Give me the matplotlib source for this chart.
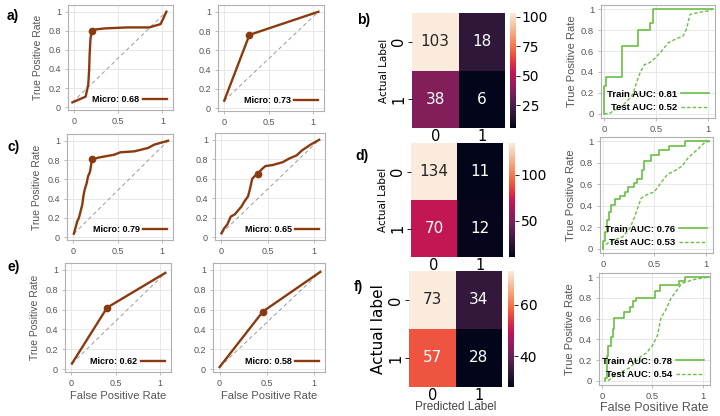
import numpy as np
import matplotlib as mpl
mpl.use("agg")
import matplotlib.pyplot as plt
from matplotlib.ticker import FuncFormatter
import seaborn as sns

W, H = 720, 416
BROWN = "#8b3a10"
GREEN = "#6abf45"
SANS = "Liberation Sans"

# ---- micro-average ROC curves (left two columns) ----
a1_fpr = [-0.02, 0.13, 0.16, 0.17, 0.175, 0.185, 0.20, 0.25, 0.35, 0.60, 0.85, 0.98, 1.045]
a1_tpr = [0.05, 0.11, 0.24, 0.40, 0.55, 0.72, 0.80, 0.815, 0.825, 0.835, 0.835, 0.87, 1.0]
a1_mark = (0.20, 0.80)
a2_fpr = [0.0, 0.283, 1.057]
a2_tpr = [0.077, 0.76, 1.0]
a2_mark = (0.283, 0.76)

c1_fpr = [0.007, 0.026, 0.045, 0.064, 0.083, 0.102, 0.113, 0.128, 0.151, 0.166, 0.189,
          0.204, 0.215, 0.31, 0.46, 0.53, 0.686, 0.84, 0.91, 1.065]
c1_tpr = [0.035, 0.097, 0.165, 0.20, 0.27, 0.34, 0.42, 0.49, 0.56, 0.63, 0.68,
          0.77, 0.81, 0.83, 0.855, 0.88, 0.89, 0.925, 0.96, 1.0]
c1_mark = (0.215, 0.81)
c2_fpr = [0.0, 0.027, 0.064, 0.10, 0.146, 0.176, 0.213, 0.251, 0.288, 0.307, 0.333,
          0.363, 0.393, 0.438, 0.476, 0.55, 0.663, 0.738, 0.813, 0.87, 0.963, 1.057]
c2_tpr = [0.038, 0.087, 0.131, 0.21, 0.235, 0.27, 0.31, 0.37, 0.42, 0.49, 0.60,
          0.63, 0.65, 0.70, 0.73, 0.74, 0.77, 0.81, 0.84, 0.89, 0.95, 1.0]
c2_mark = (0.393, 0.65)

e1_fpr = [0.008, 0.403, 1.056]
e1_tpr = [0.055, 0.62, 0.97]
e1_mark = (0.403, 0.62)
e2_fpr = [0.0, 0.46, 1.07]
e2_tpr = [0.02, 0.58, 0.98]
e2_mark = (0.46, 0.58)

micro_auc = {"a1": 0.68, "a2": 0.73, "c1": 0.79, "c2": 0.65, "e1": 0.62, "e2": 0.58}

# ---- confusion matrices ----
cm_b = [[103, 18], [38, 6]]
cm_d = [[134, 11], [70, 12]]
cm_f = [[73, 34], [57, 28]]
cbar_ticks_b = [25, 50, 75, 100]
cbar_ticks_d = [50, 100]
cbar_ticks_f = [40, 60]

# ---- train / test ROC curves (right column) ----
b_train_fpr = [0.0, 0.0, 0.02, 0.02, 0.17, 0.17, 0.33, 0.33, 0.44, 0.44, 0.47, 0.47, 1.05]
b_train_tpr = [0.0, 0.27, 0.27, 0.35, 0.35, 0.65, 0.65, 0.80, 0.80, 0.87, 0.87, 1.0, 1.0]
b_test_fpr = [0.0, 0.05, 0.09, 0.17, 0.23, 0.28, 0.31, 0.35, 0.39, 0.44, 0.49, 0.555,
              0.62, 0.70, 0.76, 0.795, 0.83, 0.92, 0.99, 1.045]
b_test_tpr = [0.0, 0.0, 0.03, 0.07, 0.13, 0.19, 0.29, 0.40, 0.47, 0.49, 0.53, 0.60,
              0.68, 0.72, 0.74, 0.81, 0.95, 0.97, 0.98, 1.0]
b_auc = (0.81, 0.52)

d_train_fpr = [0.0, 0.0, 0.02, 0.02, 0.035, 0.035, 0.06, 0.06, 0.08, 0.08, 0.12, 0.12,
               0.165, 0.165, 0.21, 0.21, 0.24, 0.24, 0.30, 0.30, 0.33, 0.33, 0.38, 0.38,
               0.40, 0.40, 0.465, 0.465, 0.545, 0.545, 0.64, 0.64, 0.80, 0.80, 1.03]
d_train_tpr = [0.0, 0.07, 0.07, 0.16, 0.16, 0.27, 0.27, 0.34, 0.34, 0.41, 0.41, 0.46,
               0.46, 0.49, 0.49, 0.53, 0.53, 0.57, 0.57, 0.61, 0.61, 0.65, 0.65, 0.73,
               0.73, 0.82, 0.82, 0.87, 0.87, 0.92, 0.92, 0.96, 0.96, 1.0, 1.0]
d_test_fpr = [0.0, 0.0, 0.065, 0.19, 0.26, 0.305, 0.37, 0.42, 0.50, 0.56, 0.625, 0.705,
              0.77, 0.83, 0.915, 0.99, 1.04]
d_test_tpr = [0.0, 0.02, 0.065, 0.11, 0.19, 0.29, 0.47, 0.50, 0.53, 0.61, 0.69, 0.73,
              0.77, 0.85, 0.92, 0.99, 1.0]
d_auc = (0.76, 0.53)

f_train_fpr = [0.03, 0.03, 0.05, 0.05, 0.06, 0.06, 0.09, 0.09, 0.11, 0.11, 0.12, 0.12,
               0.22, 0.22, 0.28, 0.28, 0.31, 0.31, 0.34, 0.34, 0.52, 0.52, 0.57, 0.57,
               0.76, 0.76, 0.82, 0.82, 1.06]
f_train_tpr = [0.0, 0.03, 0.03, 0.24, 0.24, 0.34, 0.34, 0.42, 0.42, 0.50, 0.50, 0.61,
               0.61, 0.66, 0.66, 0.71, 0.71, 0.77, 0.77, 0.80, 0.80, 0.87, 0.87, 0.92,
               0.92, 0.96, 0.96, 1.0, 1.0]
f_test_fpr = [0.06, 0.12, 0.18, 0.28, 0.38, 0.44, 0.50, 0.55, 0.585, 0.63, 0.68, 0.73,
              0.79, 0.92, 1.06]
f_test_tpr = [0.0, 0.05, 0.08, 0.13, 0.23, 0.27, 0.34, 0.44, 0.61, 0.68, 0.79, 0.86,
              0.94, 0.98, 1.0]
f_auc = (0.78, 0.54)


def px_axes(fig, x0, y0, x1, y1):
    return fig.add_axes([x0 / W, 1 - y1 / H, (x1 - x0) / W, (y1 - y0) / H])


fmt_g = FuncFormatter(lambda v, _: f"{v:g}")


def style_roc(ax, tick_size, xlim, ylim):
    ax.set_xlim(*xlim)
    ax.set_ylim(*ylim)
    ax.set_xticks([0, 0.5, 1])
    ax.set_yticks([0, 0.2, 0.4, 0.6, 0.8, 1])
    ax.xaxis.set_major_formatter(fmt_g)
    ax.yaxis.set_major_formatter(fmt_g)
    ax.grid(color="#e4e4e4", lw=0.6)
    ax.set_axisbelow(True)
    for s in ax.spines.values():
        s.set_color("#b0b0b0")
        s.set_linewidth(0.8)
    ax.tick_params(length=2, width=0.6, color="#b0b0b0", labelsize=tick_size,
                   labelcolor="#555555", pad=3)
    for t in ax.get_xticklabels() + ax.get_yticklabels():
        t.set_fontfamily(SANS)


def draw_micro(ax, fpr, tpr, mark, auc, ylabel=False, xlabel=False):
    ax.plot([fpr[0], fpr[-1]], [tpr[0], tpr[-1]], ls=(0, (4, 3)), color="#9a9a9a", lw=0.7)
    ax.plot(fpr, tpr, color=BROWN, lw=1.7, label=f"Micro: {auc:.2f}")
    ax.plot(mark[0], mark[1], "o", color=BROWN, ms=4.5)
    style_roc(ax, 6.5, (-0.07, 1.12), (-0.03, 1.07))
    ax.legend(loc="lower right", frameon=False, markerfirst=False,
              handlelength=2.6, borderaxespad=0.3, handletextpad=0.4,
              prop={"family": SANS, "weight": "bold", "size": 6.5})
    if ylabel:
        ax.set_ylabel("True Positive Rate", fontsize=7.5, color="#555555",
                      family=SANS, labelpad=4)
    if xlabel:
        ax.set_xlabel("False Positive Rate", fontsize=8, color="#555555",
                      family=SANS, labelpad=2)


def draw_train_test(ax, tr_fpr, tr_tpr, te_fpr, te_tpr, aucs, xlabel=False):
    ax.plot(tr_fpr, tr_tpr, color=GREEN, lw=1.2, label=f"Train AUC: {aucs[0]:.2f}")
    ax.plot(te_fpr, te_tpr, color=GREEN, lw=1.0, ls=(0, (2.5, 1.5)),
            label=f"Test AUC: {aucs[1]:.2f}")
    style_roc(ax, 6.8, (-0.03, 1.07), (-0.04, 1.04))
    ax.legend(loc="lower right", frameon=False, markerfirst=False,
              handlelength=3.0, borderaxespad=0.2, handletextpad=0.4, labelspacing=0.5,
              prop={"family": SANS, "weight": "bold", "size": 6.8})
    ax.set_ylabel("True Positive Rate", fontsize=8, color="#555555", family=SANS, labelpad=3)
    if xlabel:
        ax.set_xlabel("False Positive Rate", fontsize=9, color="#555555",
                      family=SANS, labelpad=1)


def draw_cm(ax, cax, cm, ticks, ylab, ylab_size, xlab=None):
    cm = np.asarray(cm)
    sns.heatmap(cm, ax=ax, cbar_ax=cax, annot=True, fmt="d",
                annot_kws={"size": 11}, cmap="rocket")
    ax.tick_params(axis="y", labelsize=10.5, length=3, width=0.6, pad=1)
    ax.tick_params(axis="x", labelsize=10.5, length=0, pad=0.5)
    ax.set_ylabel(ylab, fontsize=ylab_size, labelpad=2)
    if xlab:
        ax.set_xlabel(xlab, fontsize=8.5, family=SANS, labelpad=-1, color="#444444")
    cax.set_yticks(ticks)
    cax.tick_params(labelsize=10, length=3, width=0.6, pad=1)


fig = plt.figure(figsize=(W / 100, H / 100), dpi=100)

draw_micro(px_axes(fig, 68, 5, 173, 110), a1_fpr, a1_tpr, a1_mark, micro_auc["a1"], ylabel=True)
draw_micro(px_axes(fig, 218, 5, 324, 111), a2_fpr, a2_tpr, a2_mark, micro_auc["a2"])
draw_micro(px_axes(fig, 67, 134, 173, 240), c1_fpr, c1_tpr, c1_mark, micro_auc["c1"], ylabel=True)
draw_micro(px_axes(fig, 215, 133, 325, 240), c2_fpr, c2_tpr, c2_mark, micro_auc["c2"])
draw_micro(px_axes(fig, 65, 263, 171, 372), e1_fpr, e1_tpr, e1_mark, micro_auc["e1"],
           ylabel=True, xlabel=True)
draw_micro(px_axes(fig, 213, 263, 325, 372), e2_fpr, e2_tpr, e2_mark, micro_auc["e2"],
           xlabel=True)

draw_cm(px_axes(fig, 412, 13, 505, 128), px_axes(fig, 510, 13, 516, 128),
        cm_b, cbar_ticks_b, "Actual Label", 7.5)
draw_cm(px_axes(fig, 411, 143, 503, 257), px_axes(fig, 509, 143, 515, 257),
        cm_d, cbar_ticks_d, "Actual Label", 7.5)
draw_cm(px_axes(fig, 409, 271, 502, 387), px_axes(fig, 508, 271, 514, 387),
        cm_f, cbar_ticks_f, "Actual label", 11, xlab="Predicted Label")

draw_train_test(px_axes(fig, 601, 5, 715, 118), b_train_fpr, b_train_tpr,
                b_test_fpr, b_test_tpr, b_auc)
draw_train_test(px_axes(fig, 600, 137, 713, 253), d_train_fpr, d_train_tpr,
                d_test_fpr, d_test_tpr, d_auc)
draw_train_test(px_axes(fig, 599, 273, 710, 385), f_train_fpr, f_train_tpr,
                f_test_fpr, f_test_tpr, f_auc, xlabel=True)

for lab, x, y in [("a)", 7, 16), ("b)", 357, 20), ("c)", 7, 147),
                  ("d)", 355, 156), ("e)", 7, 267), ("f)", 354, 287)]:
    fig.text(x / W, 1 - y / H, lab, fontsize=10, weight="bold", family=SANS, va="center")

fig.savefig("out.png", dpi=100)
